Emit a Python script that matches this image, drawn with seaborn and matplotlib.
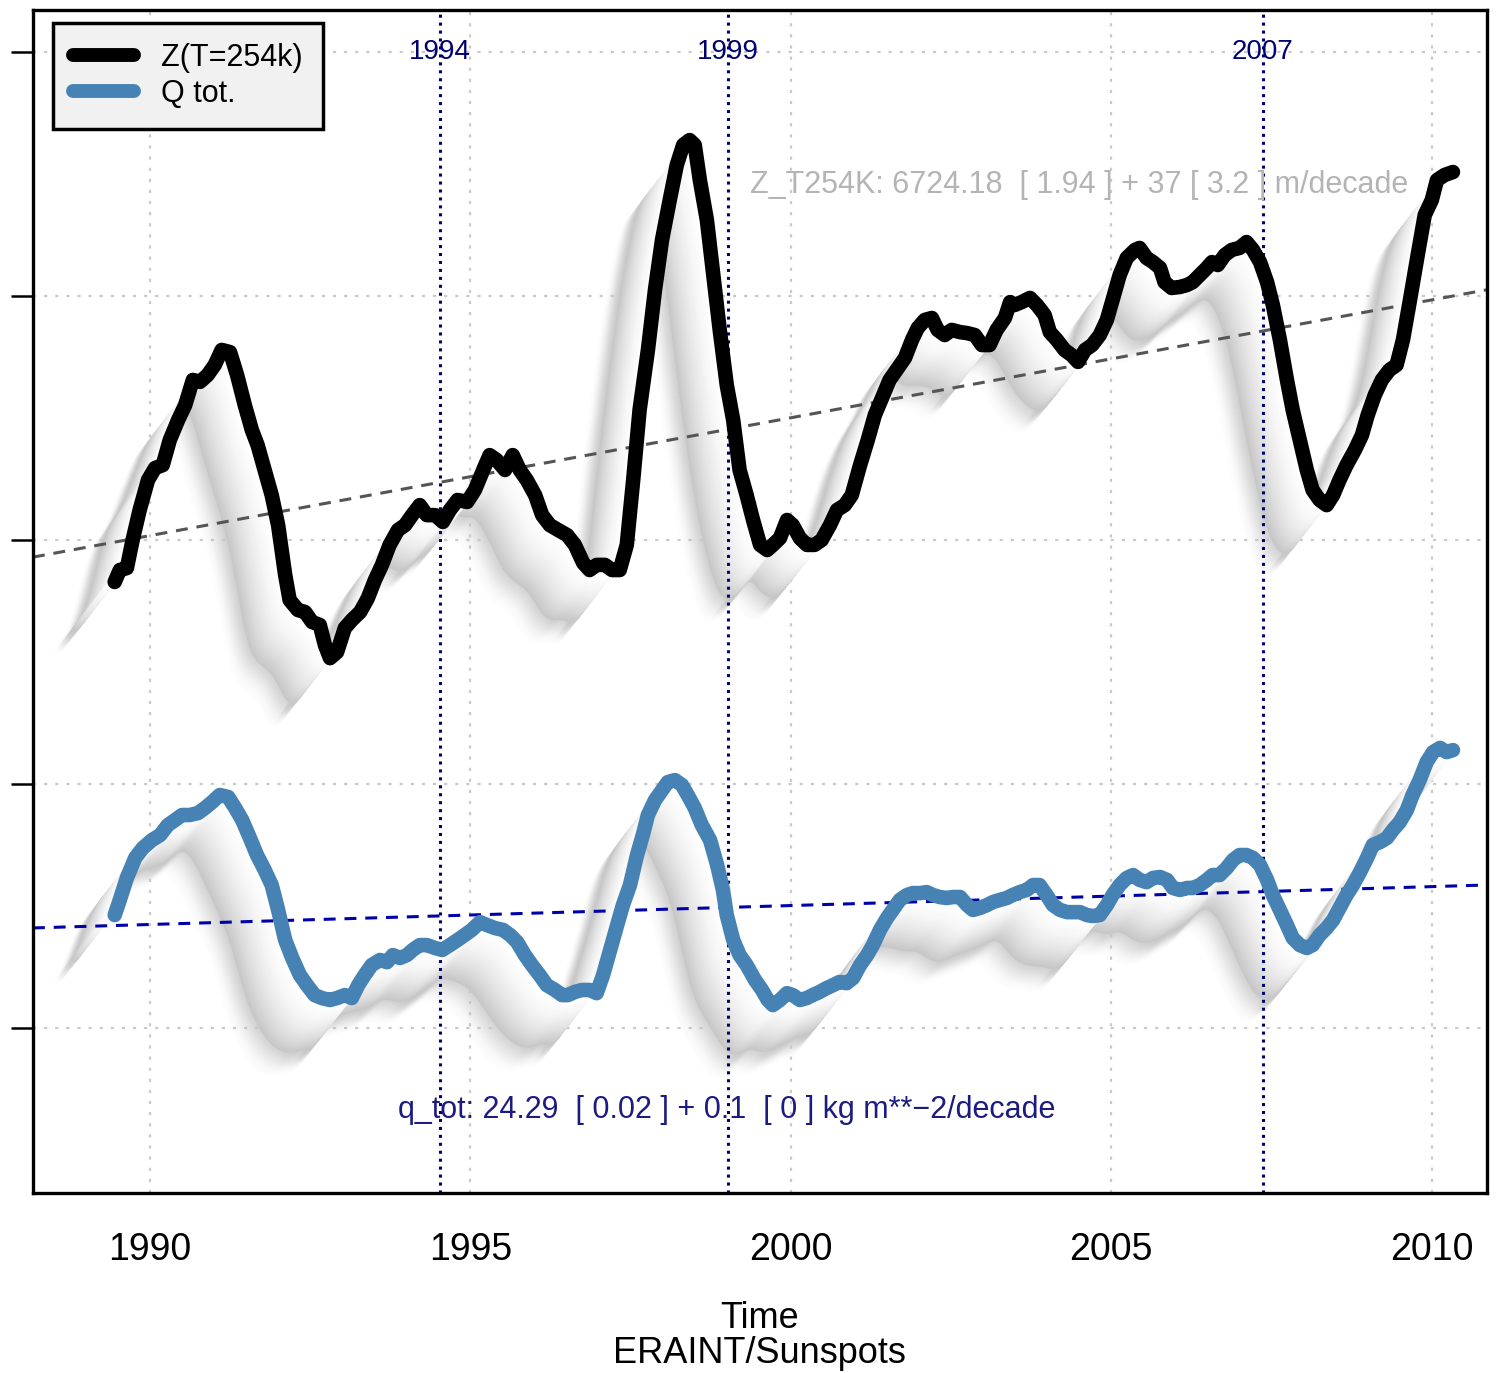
import numpy as np
import pandas as pd
import matplotlib
matplotlib.use("Agg")
import matplotlib.pyplot as plt
import seaborn as sns
from matplotlib.lines import Line2D

# ---------------------------------------------------------------- data
z_year = [1989.45, 1989.53, 1989.64, 1989.73, 1989.84, 1989.97, 1990.08, 1990.20, 1990.31, 1990.44,
          1990.55, 1990.67, 1990.78, 1990.90, 1991.01, 1991.12, 1991.25, 1991.36, 1991.48, 1991.59,
          1991.68, 1991.79, 1991.90, 1992.00, 1992.11, 1992.18, 1992.31, 1992.42, 1992.53, 1992.65,
          1992.73, 1992.81, 1992.92, 1993.04, 1993.15, 1993.28, 1993.40, 1993.51, 1993.62, 1993.74,
          1993.87, 1993.98, 1994.09, 1994.21, 1994.32, 1994.45, 1994.57, 1994.68, 1994.80, 1994.95,
          1995.07, 1995.20, 1995.30, 1995.41, 1995.54, 1995.66, 1995.77, 1995.88, 1996.01, 1996.12,
          1996.24, 1996.37, 1996.51, 1996.63, 1996.76, 1996.86, 1996.97, 1997.10, 1997.21, 1997.33,
          1997.44, 1997.54, 1997.64, 1997.77, 1997.88, 1997.99, 1998.11, 1998.22, 1998.32, 1998.42,
          1998.50, 1998.58, 1998.69, 1998.78, 1998.89, 1999.00, 1999.10, 1999.20, 1999.31, 1999.41,
          1999.52, 1999.63, 1999.72, 1999.83, 1999.94, 2000.03, 2000.14, 2000.25, 2000.37, 2000.48,
          2000.61, 2000.72, 2000.84, 2000.95, 2001.08, 2001.20, 2001.31, 2001.44, 2001.54, 2001.67,
          2001.78, 2001.89, 2001.98, 2002.09, 2002.20, 2002.29, 2002.40, 2002.51, 2002.64, 2002.75,
          2002.87, 2002.98, 2003.10, 2003.21, 2003.34, 2003.42, 2003.49, 2003.60, 2003.73, 2003.84,
          2003.96, 2004.04, 2004.15, 2004.27, 2004.38, 2004.48, 2004.59, 2004.70, 2004.82, 2004.93,
          2005.02, 2005.13, 2005.24, 2005.37, 2005.44, 2005.55, 2005.65, 2005.76, 2005.83, 2005.94,
          2006.07, 2006.18, 2006.27, 2006.38, 2006.49, 2006.57, 2006.66, 2006.77, 2006.88, 2007.00,
          2007.11, 2007.21, 2007.32, 2007.43, 2007.52, 2007.63, 2007.74, 2007.83, 2007.94, 2008.05,
          2008.14, 2008.25, 2008.36, 2008.46, 2008.56, 2008.67, 2008.80, 2008.91, 2009.00, 2009.11,
          2009.22, 2009.34, 2009.45, 2009.55, 2009.66, 2009.78, 2009.89, 2010.00, 2010.08, 2010.20,
          2010.33]
z_value = [1.828, 1.877, 1.885, 2.000, 2.123, 2.246, 2.295, 2.307, 2.410, 2.492,
           2.553, 2.656, 2.648, 2.676, 2.717, 2.779, 2.770, 2.676, 2.553, 2.451,
           2.389, 2.287, 2.184, 2.061, 1.857, 1.754, 1.713, 1.705, 1.664, 1.652,
           1.570, 1.516, 1.541, 1.639, 1.672, 1.705, 1.762, 1.836, 1.898, 1.980,
           2.041, 2.061, 2.102, 2.143, 2.102, 2.102, 2.074, 2.123, 2.164, 2.156,
           2.205, 2.287, 2.348, 2.328, 2.287, 2.348, 2.287, 2.246, 2.184, 2.102,
           2.061, 2.041, 2.020, 1.980, 1.906, 1.877, 1.898, 1.898, 1.877, 1.877,
           1.980, 2.246, 2.533, 2.779, 3.025, 3.230, 3.393, 3.537, 3.619, 3.639,
           3.619, 3.475, 3.311, 3.107, 2.861, 2.635, 2.492, 2.287, 2.184, 2.082,
           1.980, 1.959, 1.980, 2.008, 2.082, 2.061, 2.008, 1.980, 1.980, 2.000,
           2.061, 2.123, 2.143, 2.184, 2.307, 2.410, 2.512, 2.594, 2.656, 2.705,
           2.746, 2.820, 2.869, 2.902, 2.910, 2.861, 2.840, 2.861, 2.852, 2.848,
           2.840, 2.799, 2.799, 2.861, 2.910, 2.975, 2.963, 2.975, 2.992, 2.963,
           2.922, 2.852, 2.820, 2.779, 2.758, 2.730, 2.779, 2.799, 2.840, 2.902,
           2.984, 3.086, 3.156, 3.189, 3.197, 3.156, 3.139, 3.115, 3.057, 3.033,
           3.037, 3.045, 3.057, 3.086, 3.115, 3.139, 3.127, 3.168, 3.189, 3.197,
           3.221, 3.189, 3.139, 3.057, 2.963, 2.820, 2.656, 2.533, 2.410, 2.287,
           2.205, 2.164, 2.143, 2.184, 2.246, 2.307, 2.369, 2.430, 2.512, 2.594,
           2.656, 2.697, 2.717, 2.820, 2.984, 3.168, 3.332, 3.393, 3.475, 3.496,
           3.508]

q_year = [1989.45, 1989.53, 1989.64, 1989.77, 1989.89, 1990.03, 1990.16, 1990.28, 1990.39, 1990.50,
          1990.62, 1990.75, 1990.86, 1990.97, 1991.09, 1991.22, 1991.33, 1991.44, 1991.56, 1991.67,
          1991.79, 1991.90, 1992.00, 1992.11, 1992.22, 1992.34, 1992.45, 1992.57, 1992.68, 1992.81,
          1992.92, 1993.04, 1993.15, 1993.25, 1993.35, 1993.46, 1993.59, 1993.70, 1993.79, 1993.90,
          1994.01, 1994.10, 1994.21, 1994.32, 1994.45, 1994.56, 1994.68, 1994.80, 1994.91, 1995.02,
          1995.15, 1995.26, 1995.38, 1995.51, 1995.62, 1995.73, 1995.85, 1995.96, 1996.08, 1996.19,
          1996.32, 1996.43, 1996.52, 1996.63, 1996.74, 1996.86, 1996.97, 1997.07, 1997.18, 1997.29,
          1997.38, 1997.49, 1997.60, 1997.69, 1997.77, 1997.88, 1997.99, 1998.08, 1998.19, 1998.30,
          1998.39, 1998.50, 1998.61, 1998.74, 1998.85, 1998.94, 1999.00, 1999.10, 1999.20, 1999.31,
          1999.44, 1999.55, 1999.64, 1999.72, 1999.83, 1999.94, 2000.03, 2000.14, 2000.25, 2000.34,
          2000.45, 2000.56, 2000.66, 2000.76, 2000.87, 2000.97, 2001.08, 2001.19, 2001.28, 2001.39,
          2001.50, 2001.59, 2001.70, 2001.81, 2001.90, 2002.01, 2002.12, 2002.22, 2002.32, 2002.43,
          2002.53, 2002.64, 2002.75, 2002.84, 2002.95, 2003.06, 2003.15, 2003.26, 2003.37, 2003.46,
          2003.57, 2003.68, 2003.78, 2003.88, 2003.99, 2004.09, 2004.20, 2004.31, 2004.40, 2004.51,
          2004.62, 2004.71, 2004.82, 2004.93, 2005.02, 2005.13, 2005.24, 2005.34, 2005.44, 2005.55,
          2005.65, 2005.76, 2005.87, 2005.96, 2006.07, 2006.18, 2006.27, 2006.38, 2006.49, 2006.58,
          2006.69, 2006.80, 2006.90, 2007.00, 2007.11, 2007.21, 2007.32, 2007.43, 2007.52, 2007.63,
          2007.74, 2007.83, 2007.94, 2008.05, 2008.14, 2008.25, 2008.36, 2008.46, 2008.56, 2008.67,
          2008.77, 2008.88, 2008.99, 2009.08, 2009.19, 2009.30, 2009.39, 2009.50, 2009.61, 2009.70,
          2009.81, 2009.92, 2010.02, 2010.13, 2010.23, 2010.33]
q_value = [0.463, 0.525, 0.615, 0.697, 0.738, 0.770, 0.791, 0.832, 0.852, 0.873,
           0.873, 0.881, 0.902, 0.926, 0.955, 0.947, 0.902, 0.852, 0.779, 0.709,
           0.648, 0.586, 0.484, 0.361, 0.287, 0.217, 0.176, 0.135, 0.123, 0.115,
           0.123, 0.135, 0.123, 0.176, 0.217, 0.258, 0.279, 0.270, 0.299, 0.287,
           0.299, 0.320, 0.340, 0.340, 0.328, 0.320, 0.340, 0.361, 0.381, 0.402,
           0.434, 0.422, 0.410, 0.402, 0.381, 0.352, 0.299, 0.258, 0.217, 0.176,
           0.156, 0.135, 0.135, 0.148, 0.156, 0.156, 0.143, 0.217, 0.320, 0.422,
           0.504, 0.586, 0.709, 0.791, 0.873, 0.934, 0.975, 1.008, 1.016, 0.996,
           0.955, 0.902, 0.832, 0.770, 0.668, 0.566, 0.463, 0.361, 0.299, 0.258,
           0.197, 0.156, 0.115, 0.094, 0.115, 0.143, 0.135, 0.115, 0.123, 0.135,
           0.148, 0.164, 0.176, 0.189, 0.184, 0.205, 0.258, 0.299, 0.340, 0.402,
           0.451, 0.484, 0.525, 0.545, 0.553, 0.553, 0.557, 0.545, 0.537, 0.533,
           0.537, 0.537, 0.504, 0.484, 0.492, 0.504, 0.516, 0.525, 0.533, 0.545,
           0.557, 0.566, 0.586, 0.586, 0.545, 0.504, 0.484, 0.475, 0.475, 0.475,
           0.463, 0.459, 0.463, 0.504, 0.545, 0.586, 0.615, 0.627, 0.607, 0.598,
           0.615, 0.619, 0.607, 0.574, 0.566, 0.574, 0.574, 0.586, 0.607, 0.627,
           0.627, 0.656, 0.689, 0.709, 0.709, 0.697, 0.668, 0.607, 0.545, 0.484,
           0.422, 0.369, 0.340, 0.328, 0.340, 0.381, 0.410, 0.443, 0.492, 0.545,
           0.586, 0.639, 0.697, 0.750, 0.762, 0.779, 0.811, 0.844, 0.893, 0.955,
           1.016, 1.090, 1.131, 1.148, 1.131, 1.139]

# linear trends (value at 2000, change per year)
z_trend = (2.501, 0.0483)
q_trend = (0.502, 0.00776)

event_years = [1994.52, 1999.02, 2007.36]
event_labels = ["1994", "1999", "2007"]

series_labels = ["Z(T=254k)", "Q tot."]
z_note = "Z_T254K: 6724.18  [ 1.94 ] + 37 [ 3.2 ] m/decade"
q_note = "q_tot: 24.29  [ 0.02 ] + 0.1  [ 0 ] kg m**\u22122/decade"
x_ticks = [1990, 1995, 2000, 2005, 2010]
y_ticks = [0, 1, 2, 3, 4]

# ---------------------------------------------------------------- style
sns.set_style("white")
plt.rcParams["font.family"] = ["Liberation Sans", "DejaVu Sans"]
plt.rcParams["text.color"] = "black"
plt.rcParams["axes.labelcolor"] = "black"
plt.rcParams["xtick.color"] = "black"
plt.rcParams["ytick.color"] = "black"

Z_COLOR = "black"
Q_COLOR = "#4682b4"
NAVY = "#000070"

fig = plt.figure(figsize=(14.98, 13.73), dpi=100)
ax = fig.add_axes([0.0220, 0.1311, 0.9706, 0.8616])
ax.set_xlim(1988.175, 2010.86)
ax.set_ylim(-0.676, 4.172)

ax.set_xticks(x_ticks)
ax.set_yticks(y_ticks)
ax.set_yticklabels([])
ax.grid(True, color="#c9c9c9", linewidth=1.6, linestyle=(0, (1.4, 3.6)))
ax.set_axisbelow(True)
for sp in ax.spines.values():
    sp.set_visible(True)
    sp.set_color("black")
    sp.set_linewidth(2.4)
ax.tick_params(axis="both", direction="out", length=16, width=1.8, color="black")
ax.tick_params(axis="x", labelsize=27, pad=12, labelcolor="black")
ax.tick_params(axis="y", left=True, labelleft=False)


def sweep_shadow(years, values, shift_x, shift_y, steps=70):
    """Grey extruded shadow of a smoothed copy of the series."""
    years = np.asarray(years)
    grid = np.arange(years[0], years[-1], 1 / 36)
    vals = np.interp(grid, years, values)
    k = np.hanning(19)
    k /= k.sum()
    smooth = np.convolve(np.pad(vals, 9, mode="edge"), k, mode="valid")
    for f in np.linspace(1.5, 0.0, steps):
        if f > 1.0:
            a = (1 - (f - 1.0) / 0.5) ** 2
            ax.plot(grid + shift_x * f, smooth + shift_y * f, color="0.78",
                    alpha=a * 0.35, lw=4, solid_capstyle="round", zorder=1)
        else:
            g = 1.0 - 0.22 * f ** 1.8
            ax.plot(grid + shift_x * f, smooth + shift_y * f, color=(g, g, g),
                    lw=4, solid_capstyle="round", zorder=1.1)


sweep_shadow(z_year, z_value, -0.62, -0.21)
sweep_shadow(q_year, q_value, -0.62, -0.21)

# trend lines
ax.axline((2000, z_trend[0]), slope=z_trend[1], color="#555555", lw=2.2,
          linestyle=(0, (3.9, 2.9)), zorder=2)
ax.axline((2000, q_trend[0]), slope=q_trend[1], color="#0000a8", lw=2.2,
          linestyle=(0, (3.9, 2.9)), zorder=2)

# event markers
for yr, lab in zip(event_years, event_labels):
    ax.axvline(yr, color=NAVY, lw=2.2, linestyle=(0, (1, 1.6)), zorder=2)
    ax.text(yr, 4.0, lab, color=NAVY, fontsize=20, ha="center", va="center", zorder=4)

# series
df_z = pd.DataFrame({"year": z_year, "value": z_value})
df_q = pd.DataFrame({"year": q_year, "value": q_value})
sns.lineplot(data=df_z, x="year", y="value", color=Z_COLOR, linewidth=10.5,
             estimator=None, sort=False, legend=False, ax=ax,
             solid_capstyle="round", solid_joinstyle="round", zorder=3)
sns.lineplot(data=df_q, x="year", y="value", color=Q_COLOR, linewidth=10.5,
             estimator=None, sort=False, legend=False, ax=ax,
             solid_capstyle="round", solid_joinstyle="round", zorder=3)

ax.text(1999.36, 3.455, z_note, color="#b4b4b4", fontsize=22, ha="left", va="center", zorder=4)
ax.text(1993.87, -0.336, q_note, color="#1c1c80", fontsize=22, ha="left", va="center", zorder=4)

ax.set_xlabel("Time\nERAINT/Sunspots", fontsize=26, labelpad=24, linespacing=0.98)
ax.set_ylabel("")

handles = [Line2D([], [], color=Z_COLOR, lw=10, solid_capstyle="round"),
           Line2D([], [], color=Q_COLOR, lw=10, solid_capstyle="round")]
leg = ax.legend(handles, series_labels, loc="upper left", bbox_to_anchor=(0.0138, 0.989),
                borderaxespad=0, fontsize=22, handlelength=2.0, handletextpad=0.9,
                labelspacing=0.2, borderpad=0.65, fancybox=False, frameon=True,
                facecolor="#f1f1f1", edgecolor="black", framealpha=1)
leg.get_frame().set_linewidth(2.5)
leg.set_zorder(6)

fig.savefig("out.png", dpi=100, facecolor="white")
